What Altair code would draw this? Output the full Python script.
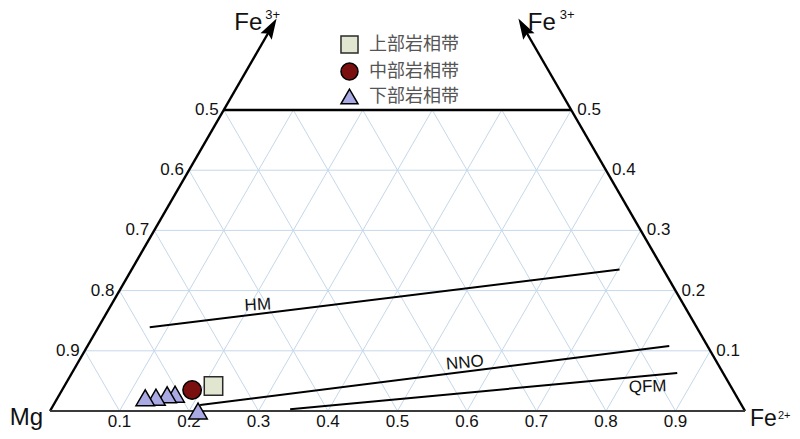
import altair as alt
import pandas as pd

# ---------------- data ----------------
groups = ["上部岩相带", "中部岩相带", "下部岩相带"]
group_shapes = ["square", "circle", "triangle-up"]
group_fills = ["#e0e6cf", "#7a0f0f", "#a9a9e4"]
group_strokes = ["#2a2a2a", "#000000", "#000000"]

# samples: Fe2+ fraction (b) and Fe3+ fraction (t)
sample_group = ["下部岩相带", "下部岩相带", "下部岩相带", "下部岩相带", "下部岩相带", "中部岩相带", "上部岩相带"]
sample_fe2 = [0.166, 0.155, 0.141, 0.126, 0.213, 0.187, 0.2145]
sample_fe3 = [0.028, 0.027, 0.023, 0.022, 0.000, 0.035, 0.0415]

# oxygen buffer lines
buffer_names = ["HM", "NNO", "QFM"]
buffer_fe2_start = [0.074, 0.211, 0.344]
buffer_fe3_start = [0.139, 0.010, 0.003]
buffer_fe2_end = [0.702, 0.837, 0.871]
buffer_fe3_end = [0.235, 0.108, 0.063]
buffer_label_fe2 = [0.211, 0.557, 0.840]
buffer_label_fe3 = [0.176, 0.080, 0.040]
buffer_label_angle = [357, 355, 358]

grid_levels = [0.1, 0.2, 0.3, 0.4, 0.5, 0.6, 0.7, 0.8, 0.9]
side_levels = [0.5, 0.4, 0.3, 0.2, 0.1]
left_labels = ["0.5", "0.6", "0.7", "0.8", "0.9"]
right_labels = ["0.5", "0.4", "0.3", "0.2", "0.1"]
bottom_labels = ["0.1", "0.2", "0.3", "0.4", "0.5", "0.6", "0.7", "0.8", "0.9"]

TOP = 0.5      # truncated at Fe3+ = 0.5
ARROW_END = 0.63
ARROW_C = 0.637
TIP = 0.651


def tx(b, t):
    return b + t / 2.0


# ---------------- scales ----------------
xs = alt.Scale(domain=[0, 1], range=[42, 737], nice=False, zero=False)
ys = alt.Scale(domain=[0, 0.65], range=[403, 11.7], nice=False, zero=False)


def X(f="x"):
    return alt.X(f + ":Q", scale=xs, axis=None)


def Y(f="y"):
    return alt.Y(f + ":Q", scale=ys, axis=None)


# grid
grid_rows = []
for t in side_levels[1:]:
    grid_rows.append(dict(x=tx(0, t), y=t, x2=tx(1 - t, t), y2=t))
for b in grid_levels:
    te = min(TOP, 1 - b)
    grid_rows.append(dict(x=tx(b, 0), y=0, x2=tx(b, te), y2=te))
    te2 = min(TOP, b)
    grid_rows.append(dict(x=tx(b, 0), y=0, x2=tx(b - te2, te2), y2=te2))
grid_df = pd.DataFrame(grid_rows)

grid = alt.Chart(grid_df).mark_rule(color="#c5d8ea", strokeWidth=1).encode(
    x=X(), y=Y(), x2="x2:Q", y2="y2:Q")

# frame
frame_df = pd.DataFrame([
    dict(x=tx(0, 0), y=0, x2=tx(0, ARROW_END), y2=ARROW_END),
    dict(x=tx(1, 0), y=0, x2=tx(1 - ARROW_END, ARROW_END), y2=ARROW_END),
    dict(x=tx(0, TOP), y=TOP, x2=tx(1 - TOP, TOP), y2=TOP),
])
frame = alt.Chart(frame_df).mark_rule(color="black", strokeWidth=2.4).encode(
    x=X(), y=Y(), x2="x2:Q", y2="y2:Q")
base_df = pd.DataFrame([dict(x=tx(0, 0), y=0, x2=tx(1, 0), y2=0)])
base = alt.Chart(base_df).mark_rule(color="#3a3a3a", strokeWidth=2).encode(
    x=X(), y=Y(), x2="x2:Q", y2="y2:Q")

arrow_df = pd.DataFrame([
    dict(x=tx(0, ARROW_C), y=ARROW_C, a=30),
    dict(x=tx(1 - ARROW_C, ARROW_C), y=ARROW_C, a=330),
])
arrows = alt.Chart(arrow_df).mark_point(
    shape="M0,-1L0.62,1L0,0.65L-0.62,1Z", filled=True, color="black", size=440, opacity=1
).encode(x=X(), y=Y(), angle=alt.Angle("a:Q", scale=None))

# buffers
buf_df = pd.DataFrame(dict(
    name=buffer_names,
    x=[tx(b, t) for b, t in zip(buffer_fe2_start, buffer_fe3_start)],
    y=buffer_fe3_start,
    x2=[tx(b, t) for b, t in zip(buffer_fe2_end, buffer_fe3_end)],
    y2=buffer_fe3_end,
))
buffers = alt.Chart(buf_df).mark_rule(color="black", strokeWidth=2).encode(
    x=X(), y=Y(), x2="x2:Q", y2="y2:Q")

buf_lab_df = pd.DataFrame(dict(
    name=buffer_names,
    x=[tx(b, t) for b, t in zip(buffer_label_fe2, buffer_label_fe3)],
    y=buffer_label_fe3,
    a=buffer_label_angle,
))
buf_labels = alt.Chart(buf_lab_df).mark_text(
    font="Liberation Sans", fontSize=17, color="#111", align="center", baseline="middle"
).encode(x=X(), y=Y(), text="name:N", angle=alt.Angle("a:Q", scale=None))

# tick labels
FONT = "Liberation Sans"
left_df = pd.DataFrame(dict(x=[tx(0, t) for t in side_levels], y=side_levels, lab=left_labels))
left_txt = alt.Chart(left_df).mark_text(font=FONT, fontSize=17, color="#111", align="right",
                                        baseline="middle", dx=-5).encode(x=X(), y=Y(), text="lab:N")
right_df = pd.DataFrame(dict(x=[tx(1 - t, t) for t in side_levels], y=side_levels, lab=right_labels))
right_txt = alt.Chart(right_df).mark_text(font=FONT, fontSize=17, color="#111", align="left",
                                          baseline="middle", dx=6).encode(x=X(), y=Y(), text="lab:N")
bottom_df = pd.DataFrame(dict(x=[tx(b, 0) for b in grid_levels], y=[0] * 9, lab=bottom_labels))
bottom_txt = alt.Chart(bottom_df).mark_text(font=FONT, fontSize=17, color="#111", align="center",
                                            baseline="bottom", dy=20).encode(x=X(), y=Y(), text="lab:N")

# corner labels
corner_df = pd.DataFrame([
    dict(x=tx(0, 0), y=0, lab="Mg", dx=-7, dy=19, s=24, al="right"),
    dict(x=tx(1, 0), y=0, lab="Fe", dx=5, dy=20, s=23, al="left"),
    dict(x=tx(0, TIP), y=TIP, lab="Fe", dx=-42, dy=-8, s=24, al="left"),
    dict(x=tx(1 - TIP, TIP), y=TIP, lab="Fe", dx=9, dy=-8, s=24, al="left"),
])
sup_df = pd.DataFrame([
    dict(x=tx(1, 0), y=0, lab="2+", dx=33, dy=-1, s=11),
    dict(x=tx(0, TIP), y=TIP, lab="3+", dx=-11, dy=-10, s=13),
    dict(x=tx(1 - TIP, TIP), y=TIP, lab="3+", dx=41, dy=-10, s=13),
])
corner_layers = []
for _, r in corner_df.iterrows():
    corner_layers.append(
        alt.Chart(pd.DataFrame([r])).mark_text(font=FONT, fontSize=int(r.s), color="#111", align=r.al,
                                               baseline="top" if r.dy < 0 else "bottom",
                                               dx=int(r.dx), dy=int(r.dy))
        .encode(x=X(), y=Y(), text="lab:N"))
for _, r in sup_df.iterrows():
    corner_layers.append(
        alt.Chart(pd.DataFrame([r])).mark_text(font=FONT, fontSize=int(r.s), color="#111", align="left",
                                               baseline="top", dx=int(r.dx), dy=int(r.dy))
        .encode(x=X(), y=Y(), text="lab:N"))

# samples
samp_df = pd.DataFrame(dict(
    group=sample_group,
    x=[tx(b, t) for b, t in zip(sample_fe2, sample_fe3)],
    y=sample_fe3,
    order=list(range(len(sample_group))),
))
legend = alt.Legend(title=None, orient="none", legendX=332, legendY=27, direction="vertical",
                    labelFont="Noto Sans CJK SC", labelFontSize=18, labelColor="#555",
                    symbolSize=290, symbolStrokeWidth=1.5,
                    labelOffset=10, rowPadding=2, symbolOpacity=1)
points = alt.Chart(samp_df).mark_point(filled=True, strokeWidth=1.5, size=340, opacity=1).encode(
    x=X(), y=Y(),
    shape=alt.Shape("group:N", scale=alt.Scale(domain=groups, range=group_shapes), legend=legend),
    fill=alt.Fill("group:N", scale=alt.Scale(domain=groups, range=group_fills), legend=legend),
    stroke=alt.Stroke("group:N", scale=alt.Scale(domain=groups, range=group_strokes), legend=legend),
    order="order:Q",
)

chart = alt.layer(
    grid, frame, base, arrows, buffers, buf_labels, left_txt, right_txt, bottom_txt,
    *corner_layers, points
).properties(
    width=784, height=423, autosize=alt.AutoSizeParams(type="none"), padding=0
).configure_view(stroke=None)

chart.save("out.html", embed_options={"renderer": "svg", "actions": False})
